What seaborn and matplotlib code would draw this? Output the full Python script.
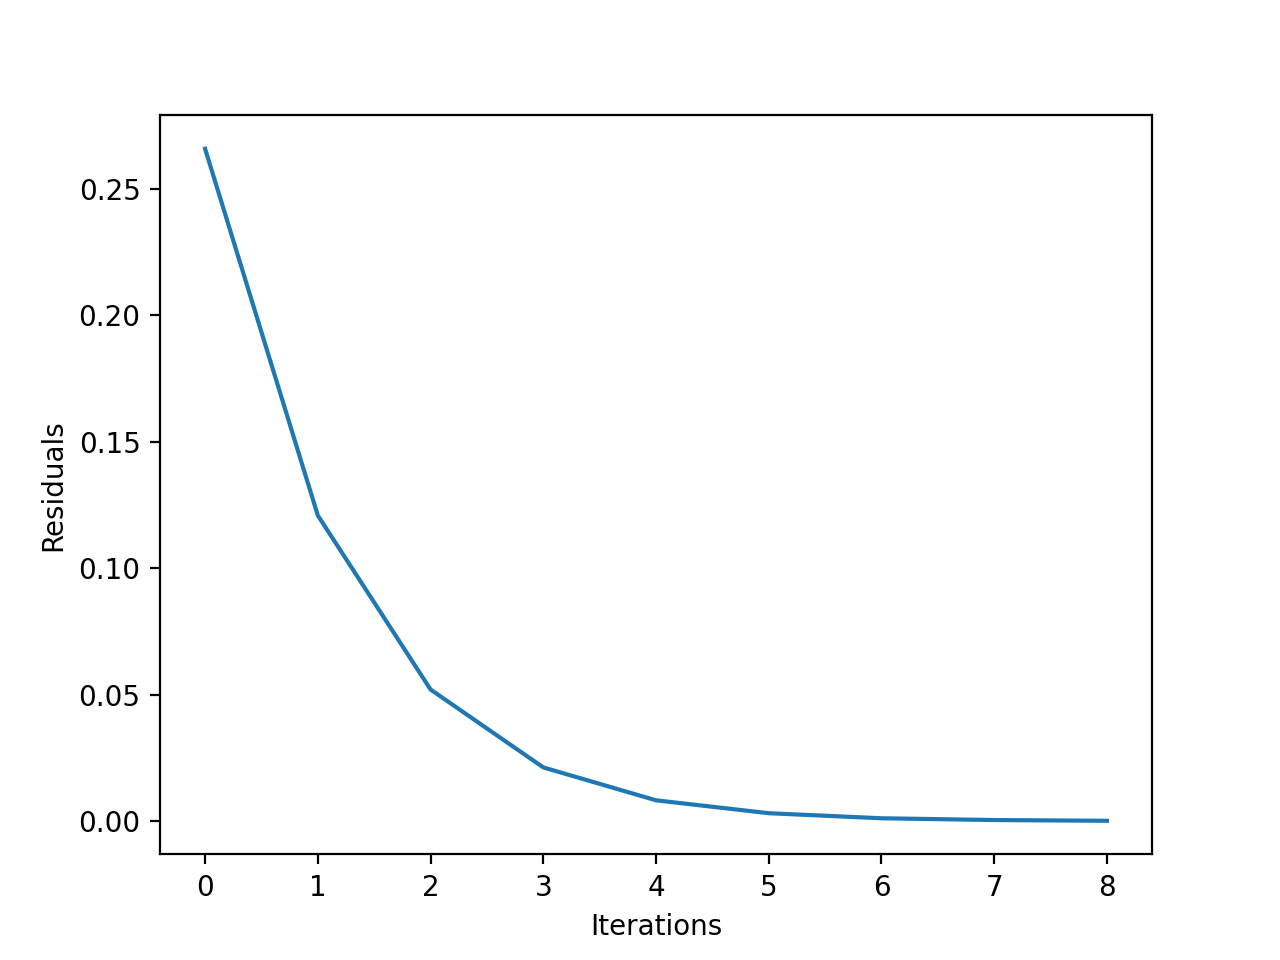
import matplotlib
matplotlib.use("Agg")
import matplotlib.pyplot as plt
import seaborn as sns
import pandas as pd

iterations = [0, 1, 2, 3, 4, 5, 6, 7, 8]
residuals = [0.2658, 0.1209, 0.0521, 0.0213, 0.0083, 0.0032, 0.0012, 0.0005, 0.0002]

df = pd.DataFrame({"Iterations": iterations, "Residuals": residuals})

fig, ax = plt.subplots(figsize=(6.4, 4.8), dpi=200)
sns.lineplot(data=df, x="Iterations", y="Residuals", ax=ax, color="#1f77b4")
ax.set_xlabel("Iterations")
ax.set_ylabel("Residuals")
fig.savefig("out.png", dpi=200)
